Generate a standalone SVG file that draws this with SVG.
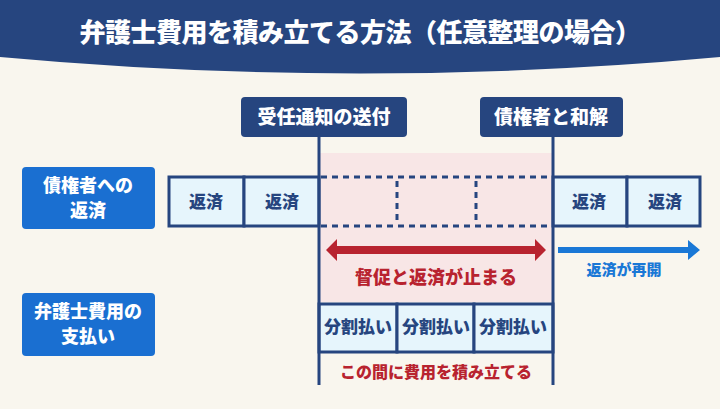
<svg xmlns="http://www.w3.org/2000/svg" width="720" height="409" viewBox="0 0 720 409">
<style>
text{font-family:"Noto Sans CJK JP",sans-serif;font-weight:900;text-anchor:middle}
.w{fill:#fff}
.nv{fill:#26457f}
.cell{fill:#e6f5fc;stroke:#26457f;stroke-width:3}
.ct{fill:#26457f;font-size:17px}
.lb{fill:#1a6fd1}
.dash{fill:none;stroke:#26457f;stroke-width:3;stroke-dasharray:6,5}
.vl{stroke:#26457f;stroke-width:3}
</style>
<rect width="720" height="409" fill="#f9f6ee"/>
<path d="M0 0H720V57Q360 90 0 57Z" fill="#26457f"/>
<text class="w" x="360" y="42" font-size="26" letter-spacing="-0.5">弁護士費用を積み立てる方法（任意整理の場合）</text>
<g id="pink"><rect x="320" y="153" width="232" height="149" fill="#f8e6e6"/></g>
<g id="left1"><rect class="lb" x="22" y="167" width="133" height="62" rx="4"/><text class="w" x="88" y="192" font-size="18">債権者への</text><text class="w" x="88" y="217" font-size="18">返済</text></g>
<g id="left2"><rect class="lb" x="22" y="293" width="133" height="63" rx="4"/><text class="w" x="88" y="318" font-size="18">弁護士費用の</text><text class="w" x="88" y="343" font-size="18">支払い</text></g>
<g id="tag1"><rect class="nv" x="241" y="97" width="166" height="40" rx="4"/><text class="w" x="324" y="124" font-size="19">受任通知の送付</text></g>
<g id="tag2"><rect class="nv" x="480" y="97" width="143" height="40" rx="4"/><text class="w" x="551" y="124" font-size="19">債権者と和解</text></g>
<g id="row">
<rect class="cell" x="169" y="177" width="75" height="49"/><text class="ct" x="206" y="208">返済</text>
<rect class="cell" x="244" y="177" width="75" height="49"/><text class="ct" x="282" y="208">返済</text>
<path class="dash" d="M321 177H551M321 226H551M397 181V224M476 181V224"/>
<rect class="cell" x="553" y="177" width="74" height="49"/><text class="ct" x="589" y="208">返済</text>
<rect class="cell" x="627" y="177" width="73" height="49"/><text class="ct" x="665" y="208">返済</text>
</g>
<g id="pay">
<rect class="cell" x="319" y="304" width="78" height="48"/><text class="ct" x="358" y="333" font-size="14.5">分割払い</text>
<rect class="cell" x="397" y="304" width="77" height="48"/><text class="ct" x="436" y="333" font-size="14.5">分割払い</text>
<rect class="cell" x="474" y="304" width="79" height="48"/><text class="ct" x="513" y="333" font-size="14.5">分割払い</text>
</g>
<g id="connectors">
<line class="vl" x1="319" y1="137" x2="319" y2="385"/>
<line class="vl" x1="553" y1="137" x2="553" y2="385"/>
<path d="M326 250L337 239V246H535V239L546 250L535 261V254H337V261Z" fill="#b8232f"/>
<path d="M558 247H688V240L700 250L688 260V253H558Z" fill="#1a78d6"/>
</g>
<text x="436" y="284" font-size="18" fill="#b8232f">督促と返済が止まる</text>
<text x="624" y="275" font-size="15" fill="#1a78d6">返済が再開</text>
<text x="436" y="378" font-size="16" fill="#b8232f">この間に費用を積み立てる</text>
</svg>
